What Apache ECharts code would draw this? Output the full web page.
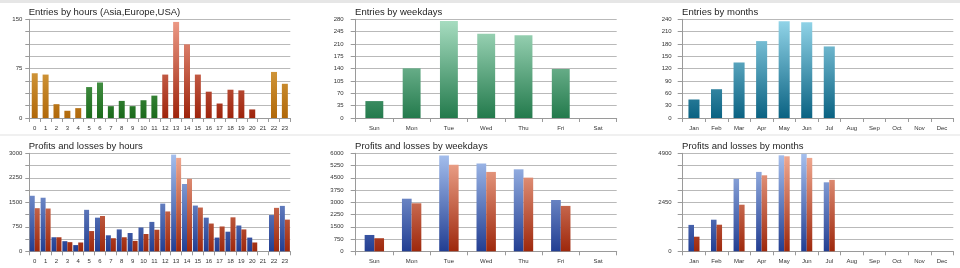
<!DOCTYPE html>
<html><head><meta charset="utf-8">
<script src="https://cdn.jsdelivr.net/npm/echarts@6/dist/echarts.min.js"></script>
<style>html,body{margin:0;padding:0;background:#fff}#c{width:960px;height:268px}</style>
</head><body><div id="c"></div>
<script>
// ---- data ----
const hours = ['0','1','2','3','4','5','6','7','8','9','10','11','12','13','14','15','16','17','18','19','20','21','22','23'];
const hourRegion = ['Asia','Asia','Asia','Asia','Asia','Europe','Europe','Europe','Europe','Europe','Europe','Europe','USA','USA','USA','USA','USA','USA','USA','USA','USA','USA','Asia','Asia'];
const entriesByHour = [68,66,21,11,15,47,54,18,26,18,27,34,66,146,112,66,40,22,43,42,13,0,70,52];
const weekdays = ['Sun','Mon','Tue','Wed','Thu','Fri','Sat'];
const entriesByWeekday = [48,141,275,239,235,139,0];
const months = ['Jan','Feb','Mar','Apr','May','Jun','Jul','Aug','Sep','Oct','Nov','Dec'];
const entriesByMonth = [45,70,135,187,235,233,174,0,0,0,0,0];
const profitsByHour = [1700,1640,430,310,190,1270,1030,490,670,560,730,900,1460,2960,2060,1400,1030,420,600,790,420,0,1110,1390];
const lossesByHour  = [1320,1310,430,280,270,620,1080,400,430,320,530,660,1220,2860,2220,1340,850,760,1040,670,270,0,1330,970];
const profitsByWeekday = [1000,3220,5870,5380,5020,3140,0];
const lossesByWeekday  = [800,2940,5300,4860,4510,2780,0];
const profitsByMonth = [1320,1580,3620,3970,4800,4870,3450,0,0,0,0,0];
const lossesByMonth  = [730,1330,2330,3800,4750,4670,3570,0,0,0,0,0];
const titles = ['Entries by hours (Asia,Europe,USA)','Entries by weekdays','Entries by months','Profits and losses by hours','Profits and losses by weekdays','Profits and losses by months'];
// y-axis: maximum, gridline step, labelled step
const yMax = [150,280,240,3000,6000,4900];
const yStep = [18.75,35,30,375,750,612.5];
const yLabelStep = [75,35,30,750,750,2450];

// ---- layout ----
const FONT = '"Liberation Sans", Arial, sans-serif';
const cols = [{l:29.3,w:261},{l:355.7,w:261},{l:682.7,w:270.6}];
const rows = [{t:19.3,h:98.7},{t:153.3,h:98}];
const grids = [];
for (let r=0;r<2;r++) for (let c=0;c<3;c++) grids.push({left:cols[c].l,top:rows[r].t,width:cols[c].w,height:rows[r].h});
const labelMargin = [7,12,11,7,12,11];
const tickLen = [4,5,5,4,5,5];

function grad(g, top, bottom){
  return new echarts.graphic.LinearGradient(0, g.top, 0, g.top+g.height, [{offset:0,color:top},{offset:1,color:bottom}], true);
}
const regionColors = {Asia:['#f3c76c','#b0680a'], Europe:['#86cc86','#1b6a1b'], USA:['#ee9c88','#9e240c']};
const blue = ['#a6c0ee','#223e92'], red = ['#f2ac94','#9e280c'];
const cats = [hours, weekdays, months, hours, weekdays, months];

const option = {
  animation:false,
  backgroundColor:'#fff',
  textStyle:{fontFamily:FONT},
  graphic:[
    {type:'rect', shape:{x:0,y:0,width:960,height:3}, style:{fill:'#e6e6e6'}},
    {type:'rect', shape:{x:0,y:134,width:960,height:2}, style:{fill:'#f0f0f0'}}
  ],
  title: titles.map((t,i)=>({text:t, padding:0, left:grids[i].left-0.6, top:grids[i].top-12, textStyle:{fontSize:9.5, fontWeight:'normal', color:'#1e1e1e', fontFamily:FONT}})),
  grid: grids.map(g=>({left:g.left, top:g.top, width:g.width, height:g.height})),
  xAxis: cats.map((c,i)=>({
    type:'category', gridIndex:i, data:c,
    axisLine:{lineStyle:{color:'#9a9a9a'}},
    axisTick:{show:true, length:4, lineStyle:{color:'#9a9a9a'}},
    axisLabel:{interval:0, fontSize:6, color:'#333', margin:7, fontFamily:FONT}
  })),
  yAxis: yMax.map((m,i)=>({
    type:'value', gridIndex:i, min:0, max:m, interval:yStep[i],
    axisLine:{show:true, lineStyle:{color:'#9a9a9a'}},
    axisTick:{show:true, length:tickLen[i], lineStyle:{color:'#9a9a9a'}},
    axisLabel:{fontSize:6, color:'#333', margin:labelMargin[i], fontFamily:FONT,
      formatter:v=>{const k=v/yLabelStep[i]; return Math.abs(k-Math.round(k))<1e-6 ? String(Math.round(v)) : '';}},
    splitLine:{lineStyle:{color:'#b9b9b9'}}
  })),
  series:[
    {type:'bar', xAxisIndex:0, yAxisIndex:0, barWidth:'55%',
      data: entriesByHour.map((v,i)=>({value:v, itemStyle:{color:grad(grids[0], regionColors[hourRegion[i]][0], regionColors[hourRegion[i]][1])}}))},
    {type:'bar', xAxisIndex:1, yAxisIndex:1, barWidth:'48%', data:entriesByWeekday,
      itemStyle:{color:grad(grids[1],'#a9dec2','#237a4c')}},
    {type:'bar', xAxisIndex:2, yAxisIndex:2, barWidth:'49%', data:entriesByMonth,
      itemStyle:{color:grad(grids[2],'#94d6ea','#0a6282')}},
    {type:'bar', xAxisIndex:3, yAxisIndex:3, barGap:'0%', barCategoryGap:'8%', data:profitsByHour,
      itemStyle:{color:grad(grids[3],blue[0],blue[1])}},
    {type:'bar', xAxisIndex:3, yAxisIndex:3, barGap:'0%', barCategoryGap:'8%', data:lossesByHour,
      itemStyle:{color:grad(grids[3],red[0],red[1])}},
    {type:'bar', xAxisIndex:4, yAxisIndex:4, barGap:'0%', barCategoryGap:'48%', data:profitsByWeekday,
      itemStyle:{color:grad(grids[4],blue[0],blue[1])}},
    {type:'bar', xAxisIndex:4, yAxisIndex:4, barGap:'0%', barCategoryGap:'48%', data:lossesByWeekday,
      itemStyle:{color:grad(grids[4],red[0],red[1])}},
    {type:'bar', xAxisIndex:5, yAxisIndex:5, barGap:'0%', barCategoryGap:'51%', data:profitsByMonth,
      itemStyle:{color:grad(grids[5],blue[0],blue[1])}},
    {type:'bar', xAxisIndex:5, yAxisIndex:5, barGap:'0%', barCategoryGap:'51%', data:lossesByMonth,
      itemStyle:{color:grad(grids[5],red[0],red[1])}}
  ]
};
const chart = echarts.init(document.getElementById('c'), null, {renderer:'canvas'});
chart.setOption(option);
</script></body></html>
